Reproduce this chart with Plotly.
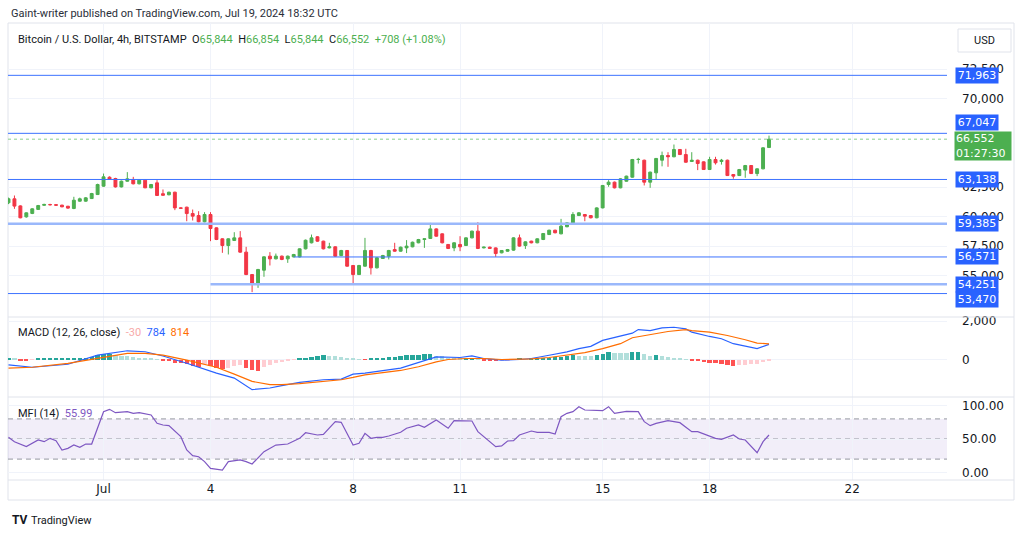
import pandas as pd
import plotly.graph_objects as go

# BTCUSD 4h bars, Jun 28 08:00 -> Jul 19 16:00 (UTC)
first_bar = "2024-06-28 08:00"

opens = [61160, 61500, 60900, 59970, 60260, 60600, 60950, 61010, 61000, 60960,
         60870, 60680, 61300, 61300, 61520, 61860, 62570, 63330, 63220, 62510,
         62990, 63140, 62770, 63080, 62430, 62850, 61930, 61840, 62060, 60730,
         60790, 60250, 60080, 59550, 60170, 59040, 58110, 57540, 57970, 58190,
         56980, 55080, 54320, 55450, 56640, 56410, 56640, 56410, 56580, 56580,
         57260, 57770, 58280, 57910, 57340, 57430, 56690, 57120, 55850, 55080,
         55790, 57120, 55650, 56440, 56640, 57200, 57060, 57340, 57430, 57770,
         58050, 58140, 58950, 58530, 57630, 57340, 57630, 57540, 58190, 58760,
         57340, 57400, 57340, 56920, 57060, 57150, 58190, 57540, 57910, 57770,
         58050, 58470, 58840, 58530, 59130, 59410, 60080, 60170, 60080, 59890,
         60730, 62710, 62910, 62430, 62990, 63330, 64830, 64770, 62910, 63700,
         64770, 65170, 65060, 65680, 65250, 64660, 64770, 64630, 63980, 64830,
         64660, 64770, 63560, 63470, 63930, 64320, 63640, 64040, 65844]
highs = [61600, 61780, 60950, 60350, 60700, 60980, 61080, 61080, 61050, 61000,
         60900, 61670, 61600, 61650, 62000, 62780, 63640, 63400, 63280, 63050,
         63760, 63360, 63130, 63130, 62760, 63080, 62290, 62100, 62100, 60780,
         60830, 60590, 60450, 60370, 60370, 59080, 58150, 58150, 58670, 58760,
         57430, 55120, 55560, 56630, 56980, 56860, 56690, 56690, 56830, 57300,
         58050, 58470, 58330, 57950, 57770, 57470, 57170, 57160, 55890, 55900,
         58190, 57170, 56540, 56750, 57170, 57770, 57450, 58000, 57870, 58100,
         58110, 59460, 59000, 58570, 57670, 57820, 58330, 58240, 58800, 59520,
         57450, 57450, 57380, 57160, 57250, 58240, 58470, 57900, 57950, 58150,
         58600, 58880, 58880, 59800, 59510, 60370, 60370, 60210, 60120, 60780,
         62670, 63080, 62960, 63240, 63460, 64880, 64970, 64820, 63800, 64960,
         65500, 65450, 66100, 65720, 65740, 65450, 64820, 64670, 65060, 65060,
         64880, 64820, 63600, 64030, 64370, 64360, 64080, 65870, 66854]
lows = [61050, 60650, 59850, 59900, 60200, 60550, 60900, 60930, 60900, 60780,
        60650, 60620, 61250, 61250, 61480, 61820, 62520, 63100, 62450, 62460,
        62950, 62720, 62720, 62400, 62390, 61750, 61760, 61800, 60540, 60680,
        59600, 59660, 59500, 59500, 57910, 58000, 56920, 56780, 57920, 56930,
        55030, 53590, 53950, 54890, 55850, 56370, 56300, 56070, 56540, 56530,
        57210, 57720, 57860, 57210, 57300, 56590, 56640, 55750, 54240, 55040,
        55750, 55080, 55600, 56400, 56360, 57020, 57020, 56900, 57390, 57730,
        57340, 58100, 58290, 57720, 57240, 57060, 57060, 57500, 58150, 57240,
        57300, 57250, 56580, 56880, 57020, 57100, 57440, 57250, 57720, 57730,
        58000, 58430, 58570, 58490, 59090, 59370, 60040, 59600, 59840, 59850,
        60690, 62520, 62380, 62390, 62950, 63290, 64490, 62630, 62430, 63100,
        64250, 64210, 65020, 65210, 64560, 64620, 63930, 63940, 63940, 64400,
        64400, 63430, 63200, 63430, 63280, 63600, 63420, 64000, 65844]
closes = [61500, 60880, 59890, 60310, 60650, 60930, 61020, 61000, 60960, 60820,
          60710, 61380, 61500, 61580, 61950, 62710, 63360, 63140, 62510, 62990,
          63190, 62770, 63080, 62430, 62710, 61780, 61800, 62060, 60730, 60700,
          60250, 60030, 59550, 60170, 58980, 58050, 57540, 58110, 58190, 56980,
          55080, 54320, 55510, 56580, 56410, 56640, 56360, 56640, 56780, 57260,
          57990, 58190, 57910, 57260, 57430, 56640, 57120, 55790, 55080, 55850,
          57120, 55650, 56500, 56690, 57120, 57060, 57400, 57490, 57820, 58050,
          58110, 58950, 58330, 57770, 57290, 57770, 57430, 58190, 58760, 57290,
          57400, 57300, 56860, 57120, 57200, 58190, 57490, 57850, 57770, 58110,
          58560, 58840, 58620, 59180, 59460, 60170, 60310, 60030, 59890, 60730,
          62630, 62910, 62430, 63190, 63420, 64830, 64840, 62910, 63760, 64920,
          65170, 65060, 65680, 65250, 64600, 64770, 64490, 63980, 64830, 64550,
          64770, 63470, 63420, 63980, 64320, 63640, 64040, 65820, 66552]

# MACD (12, 26, close) histogram, one value per bar
macd_hist = [70, 50, -30, -35, -20, 30, 50, 50, 50, 55,
             55, 70, 85, 100, 135, 220, 270, 290, 240, 200,
             185, 140, 100, 70, 50, 20, -70, -100, -170, -200,
             -255, -320, -375, -255, -340, -460, -510, -430, -360, -290,
             -445, -565, -615, -410, -275, -190, -135, -70, -20, 50,
             100, 155, 190, 240, 205, 190, 135, 100, 50, 20,
             -15, 50, 70, 85, 110, 150, 200, 220, 240, 255,
             270, 300, 205, 170, 90, 60, 50, 80, 100, 40,
             -30, -50, -70, -60, -30, 20, 30, 25, 30, 40,
             60, 90, 110, 150, 190, 230, 200, 170, 160, 240,
             300, 375, 340, 330, 320, 400, 410, 275, 200, 210,
             170, 130, 100, 60, 20, -40, -90, -140, -170, -200,
             -240, -280, -360, -300, -280, -240, -220, -150, -30]

# MACD and signal lines, read at these bar numbers (1 = first bar)
macd_at = [1, 5, 11, 16, 21, 24, 27, 31, 36, 39, 42, 45, 47, 50, 54, 57, 59, 61, 67, 70,
           73, 77, 79, 81, 84, 87, 89, 92, 95, 97, 99, 101, 104, 106, 107, 109, 111, 113,
           115, 116, 119, 121, 123, 125, 127, 129]
macd_line = [-282, -402, -248, 231, 453, 402, 180, -197, -710, -966, -1565, -1480, -1360,
             -1188, -1052, -1017, -761, -710, -450, -171, 137, 103, 188, 51, -34, 0, 51,
             222, 393, 564, 684, 992, 1197, 1368, 1556, 1505, 1642, 1676, 1590, 1419, 1197,
             1077, 821, 684, 564, 784]
signal_at = [1, 5, 11, 16, 21, 24, 27, 31, 36, 39, 42, 45, 47, 50, 54, 57, 59, 61, 67, 70,
             73, 75, 78, 81, 84, 87, 89, 92, 95, 98, 101, 104, 106, 109, 112, 115, 116, 119,
             122, 125, 127, 129]
signal_line = [-453, -402, -197, 60, 316, 316, 231, -34, -402, -761, -1137, -1308, -1308,
               -1257, -1137, -1052, -932, -795, -570, -376, -120, 0, 51, 51, 0, 0, 34, 103,
               222, 359, 564, 821, 1129, 1300, 1454, 1556, 1505, 1420, 1248, 1026, 855, 814]

# MFI (14)
mfi_at = [1, 2, 4, 6, 7, 8, 9, 10, 11, 12, 13, 14, 15, 17, 18, 19, 21, 22, 23, 25,
          26, 27, 28, 29, 30, 31, 32, 33, 34, 35, 37, 38, 40, 41, 42, 44, 46, 48, 50, 51,
          53, 54, 56, 57, 59, 60, 61, 62, 63, 64, 65, 67, 68, 70, 71, 73, 75, 76, 79, 80,
          81, 83, 84, 85, 86, 87, 89, 90, 92, 93, 94, 95, 96, 97, 98, 101, 102, 103, 105, 107,
          108, 109, 110, 112, 114, 116, 117, 120, 121, 123, 124, 125, 127, 128, 129]
mfi_line = [52.5, 46, 38.6, 48.5, 46, 51, 47.5, 33.6, 36, 41, 37.6, 42.5, 42.5, 90.8, 94.3,
            89.3, 90.8, 88.3, 89.3, 85.8, 73.4, 70.9, 69.9, 61, 53.5, 33.6, 25.1, 23.6, 16.2,
            6.2, 3.7, 16.2, 18.7, 16.2, 12.7, 31.1, 41, 42.5, 51, 59.4, 56, 57, 75.9, 74.9,
            41, 43.5, 58.4, 51, 52.5, 52.5, 54.5, 60, 66, 70.9, 67.4, 78.3, 66, 77.3, 76.9,
            61, 53.5, 38.6, 39.6, 47, 47.5, 56, 61.9, 60, 60, 57.5, 83.3, 88.3, 90.8, 98.2,
            93.3, 92.3, 98.2, 88.3, 91.3, 90.8, 75.9, 69.9, 73.4, 77.3, 74.4, 61, 61, 51,
            49.5, 56, 50, 48.5, 29.6, 46, 55.99]

# horizontal levels drawn on the chart
levels = [71963, 67047, 63138, 59385, 56571, 54251, 53470]
level_from = [None, None, None, None, "2024-07-06 08:00", "2024-07-04 00:00", None]
level_bold = [False, False, False, True, False, True, False]
last_price = 66552
countdown = "01:27:30"

price_ticks = [55000, 57500, 60000, 62500, 70000, 72500]
macd_ticks = [0, 2000]
mfi_ticks = [0, 50, 100]
mfi_bands = [20, 50, 80]
day_ticks = ["2024-07-01", "2024-07-04", "2024-07-08", "2024-07-11",
             "2024-07-15", "2024-07-18", "2024-07-22"]
day_labels = ["Jul", "4", "8", "11", "15", "18", "22"]

GREEN = "#4caf50"
RED = "#f23645"
BLUE = "#2962ff"
ORANGE = "#ff6d00"
PURPLE = "#7e57c2"
GRID = "#f0f3fa"
BORDER = "#e0e3eb"
TEXT = "#131722"
TXT_FONT = "Roboto"
AX_FONT = "DejaVu Sans"

W, H = 1024, 536
L, R, T, B = 8, 947, 23, 480


def px(x):
    return (x - L) / (R - L)


def py(y):
    return (B - y) / (B - T)


times = pd.date_range(first_bar, periods=len(closes), freq="4h")
x_range = ["2024-06-28 07:40", "2024-07-24 15:50"]

hist_colors = []
for k, v in enumerate(macd_hist):
    prev = macd_hist[k - 1] if k > 0 else v
    if v >= 0:
        hist_colors.append("#26a69a" if v >= prev else "#b2dfdb")
    else:
        hist_colors.append("#ff5252" if v <= prev else "#ffcdd2")

fig = go.Figure()

# level lines as plain line traces under the candles
for lv, start, bold in zip(levels, level_from, level_bold):
    fig.add_trace(go.Scatter(
        x=[start or x_range[0], x_range[1]], y=[lv, lv], mode="lines",
        line=dict(color="#9ab8fb" if bold else "#3d73ff", width=2.5 if bold else 1),
        xaxis="x", yaxis="y", hoverinfo="skip"))
fig.add_trace(go.Scatter(
    x=[x_range[0], x_range[1]], y=[last_price, last_price], mode="lines",
    line=dict(color="#8bcf8e", width=1, dash="dot"), xaxis="x", yaxis="y",
    hoverinfo="skip"))

fig.add_trace(go.Candlestick(
    x=times, open=opens, high=highs, low=lows, close=closes,
    increasing=dict(line=dict(color=GREEN, width=1), fillcolor=GREEN),
    decreasing=dict(line=dict(color=RED, width=1), fillcolor=RED),
    whiskerwidth=0, xaxis="x", yaxis="y", hoverinfo="skip"))
fig.add_trace(go.Bar(x=times, y=macd_hist, marker_color=hist_colors, marker_line_width=0,
                     width=4 * 3600 * 1000 * 0.72, xaxis="x2", yaxis="y2"))
fig.add_trace(go.Scatter(x=[times[i - 1] for i in macd_at], y=macd_line, mode="lines",
                         line=dict(color=BLUE, width=1.2), xaxis="x2", yaxis="y2"))
fig.add_trace(go.Scatter(x=[times[i - 1] for i in signal_at], y=signal_line, mode="lines",
                         line=dict(color=ORANGE, width=1.2), xaxis="x2", yaxis="y2"))
fig.add_trace(go.Scatter(x=[times[i - 1] for i in mfi_at], y=mfi_line, mode="lines",
                         line=dict(color=PURPLE, width=1.2), xaxis="x3", yaxis="y3"))

xcommon = dict(type="date", range=x_range, tickvals=day_ticks, ticktext=day_labels,
               showgrid=True, gridcolor=GRID, zeroline=False, showline=False, ticks="",
               fixedrange=True)
ycommon = dict(side="right", showgrid=True, gridcolor=GRID, zeroline=False, ticks="",
               ticklabelstandoff=14, tickfont=dict(family=AX_FONT, size=12, color=TEXT))

shapes = []
# pane frame and separators
shapes.append(dict(type="rect", xref="paper", yref="paper", x0=px(8), x1=px(1014),
                   y0=py(500), y1=py(23), line=dict(color=BORDER, width=1), layer="below"))
for yy in (317, 397, 480):
    shapes.append(dict(type="line", xref="paper", yref="paper", x0=px(8), x1=px(1014),
                       y0=py(yy), y1=py(yy), line=dict(color=BORDER, width=1)))

# MACD zero line
shapes.append(dict(type="line", xref="paper", yref="y2", x0=0, x1=1, y0=0, y1=0,
                   line=dict(color="#b2b5be", width=1, dash="5px,4px"), layer="below"))
# MFI band
shapes.append(dict(type="rect", xref="paper", yref="y3", x0=0, x1=1, y0=mfi_bands[0],
                   y1=mfi_bands[2], fillcolor="rgba(126,87,194,0.1)", line=dict(width=0),
                   layer="below"))
for b in mfi_bands:
    shapes.append(dict(type="line", xref="paper", yref="y3", x0=0, x1=1, y0=b, y1=b,
                       line=dict(color="#9598a1", width=1, dash="5px,4px"), layer="below"))

# USD button
shapes.append(dict(type="rect", xref="paper", yref="paper", x0=px(958), x1=px(1011),
                   y0=py(52), y1=py(29), line=dict(color=BORDER, width=1), fillcolor="white"))

ann = []
ann.append(dict(text="Gaint-writer published on TradingView.com, Jul 19, 2024 18:32 UTC",
                xref="paper", yref="paper", x=px(9), y=py(13), xanchor="left",
                yanchor="middle", showarrow=False,
                font=dict(family=TXT_FONT, size=11, color="#2a2e39")))
g = "<span style='color:%s'>%%s</span>" % GREEN
title = ("Bitcoin / U.S. Dollar, 4h, BITSTAMP  O" + g % "65,844" + "  H" + g % "66,854"
         + "  L" + g % "65,844" + "  C" + g % "66,552" + "  " + g % "+708 (+1.08%)")
ann.append(dict(text=title, xref="paper", yref="paper", x=px(16), y=py(39),
                xanchor="left", yanchor="middle", showarrow=False,
                font=dict(family=TXT_FONT, size=11, color=TEXT)))
ann.append(dict(text="MACD (12, 26, close)  <span style='color:#f7a9a9'>%d</span>  "
                "<span style='color:%s'>%d</span>  <span style='color:%s'>%d</span>"
                % (macd_hist[-1], BLUE, macd_line[-1], ORANGE, signal_line[-1]),
                xref="paper", yref="paper", x=px(16), y=py(332), xanchor="left",
                yanchor="middle", showarrow=False,
                font=dict(family=TXT_FONT, size=11, color=TEXT)))
ann.append(dict(text="MFI (14)  <span style='color:%s'>%.2f</span>" % (PURPLE, mfi_line[-1]),
                xref="paper", yref="paper", x=px(16), y=py(413), xanchor="left",
                yanchor="middle", showarrow=False,
                font=dict(family=TXT_FONT, size=11, color=TEXT)))
ann.append(dict(text="USD", xref="paper", yref="paper", x=px(984), y=py(41),
                xanchor="center", yanchor="middle", showarrow=False,
                font=dict(family=TXT_FONT, size=11, color=TEXT)))

shift = {67047: 11, 53470: -6}
for lv in levels:
    ann.append(dict(text=f"{lv:,}", xref="paper", yref="y", x=1, y=lv, xanchor="left",
                    yanchor="middle", xshift=8, yshift=shift.get(lv, 0), showarrow=False,
                    bgcolor=BLUE, borderpad=1, width=40, height=13,
                    font=dict(family=AX_FONT, size=11, color="white")))
ann.append(dict(text=f"{last_price:,}<br>{countdown}", xref="paper", yref="y", x=1,
                y=last_price, xanchor="left", yanchor="top", xshift=7, yshift=8,
                showarrow=False, bgcolor=GREEN, borderpad=1, width=54, height=26,
                align="left", font=dict(family=AX_FONT, size=11, color="white")))

ann.append(dict(text="<b>TV</b>", xref="paper", yref="paper", x=px(10), y=py(520),
                xanchor="left", yanchor="middle", showarrow=False,
                font=dict(family=TXT_FONT, size=12, color=TEXT)))
ann.append(dict(text="TradingView", xref="paper", yref="paper", x=px(29), y=py(520),
                xanchor="left", yanchor="middle", showarrow=False,
                font=dict(family=TXT_FONT, size=11, color=TEXT)))

fig.update_layout(
    width=W, height=H, autosize=False,
    margin=dict(l=L, r=W - R, t=T, b=H - B),
    paper_bgcolor="white", plot_bgcolor="white", showlegend=False,
    bargap=0, hovermode=False,
    xaxis=dict(xcommon, anchor="y", showticklabels=False, rangeslider=dict(visible=False)),
    xaxis2=dict(xcommon, anchor="y2", matches="x", showticklabels=False),
    xaxis3=dict(xcommon, anchor="y3", matches="x",
                tickfont=dict(family=AX_FONT, size=12, color=TEXT)),
    yaxis=dict(ycommon, domain=[py(317), 1], range=[51483, 76398], tickvals=price_ticks,
               tickformat=","),
    yaxis2=dict(ycommon, domain=[py(397), py(317)], range=[-1948, 2208],
                tickvals=macd_ticks, tickformat=","),
    yaxis3=dict(ycommon, domain=[0, py(397)], range=[-11.2, 112.7], tickvals=mfi_ticks,
                tickformat=".2f"),
    shapes=shapes, annotations=ann,
)

fig.write_html("out.html", config={"displayModeBar": False},
               post_script="document.body.style.margin='0';")
